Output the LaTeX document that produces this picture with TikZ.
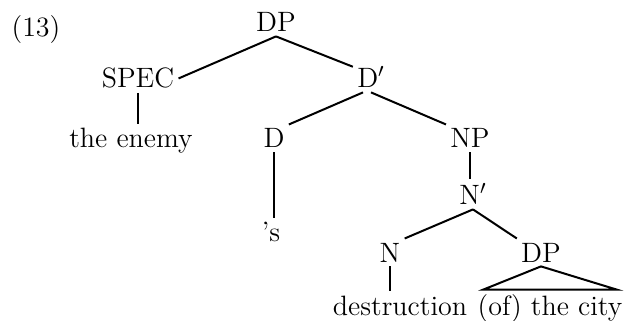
\documentclass[tikz,border=0pt]{standalone}
\usepackage{amsmath}
\usepackage{tikz}
\usetikzlibrary{arrows,shapes}

\begin{document}
\begin{tikzpicture}[x=0.5pt,y=-0.5pt,
	cat node/.style={inner sep=2pt,anchor=base,font=\fontsize{14}{16}\selectfont},
	word node/.style={inner sep=2pt,anchor=base,font=\fontsize{14}{16}\selectfont},
	branch/.style={line width=1pt}
]
	\useasboundingbox (0,0) rectangle (628,321);

	\node[word node] (ex) at (36,36) {(13)};

	\node[cat node] (DP) at (276,32) {DP};
	\node[cat node] (SPEC) at (138,88) {SPEC};
	\node[cat node] (Dbar) at (371,88) {D$'$};
	\node[word node] (enemy) at (131,148) {the enemy};
	\node[cat node] (D) at (274,148) {D};
	\node[cat node] (NP) at (470,148) {NP};
	\node[word node] (poss) at (271,242) {'s};
	\node[cat node] (Nbar) at (473,205) {N$'$};
	\node[cat node] (N) at (390,262) {N};
	\node[cat node] (DPobj) at (541,262) {DP};
	\node[word node] (destr) at (400,315) {destruction};
	\node[word node] (city) at (550,315) {(of) the city};

	\draw[branch] (DP.south) -- (SPEC.east);
	\draw[branch] (DP.south) -- (Dbar.150);
	\draw[branch] (SPEC.south) -- (SPEC.south |- enemy.north);
	\draw[branch] ([xshift=-4pt]Dbar.south) -- (D.north east);
	\draw[branch] (Dbar.south) -- (NP.north west);
	\draw[branch] (D.south) -- (D.south |- poss.north);
	\draw[branch] (NP.south) -- (NP.south |- Nbar.north);
	\draw[branch] (Nbar.south) -- (N.north east);
	\draw[branch] (Nbar.south) -- (DPobj.north west);
	\draw[branch] (N.south) -- (N.south |- destr.north);
	\draw[branch] (DPobj.south) -- ([xshift=5pt]city.north west)
		-- ([xshift=-5pt]city.north east) -- cycle;

\end{tikzpicture}
\end{document}
